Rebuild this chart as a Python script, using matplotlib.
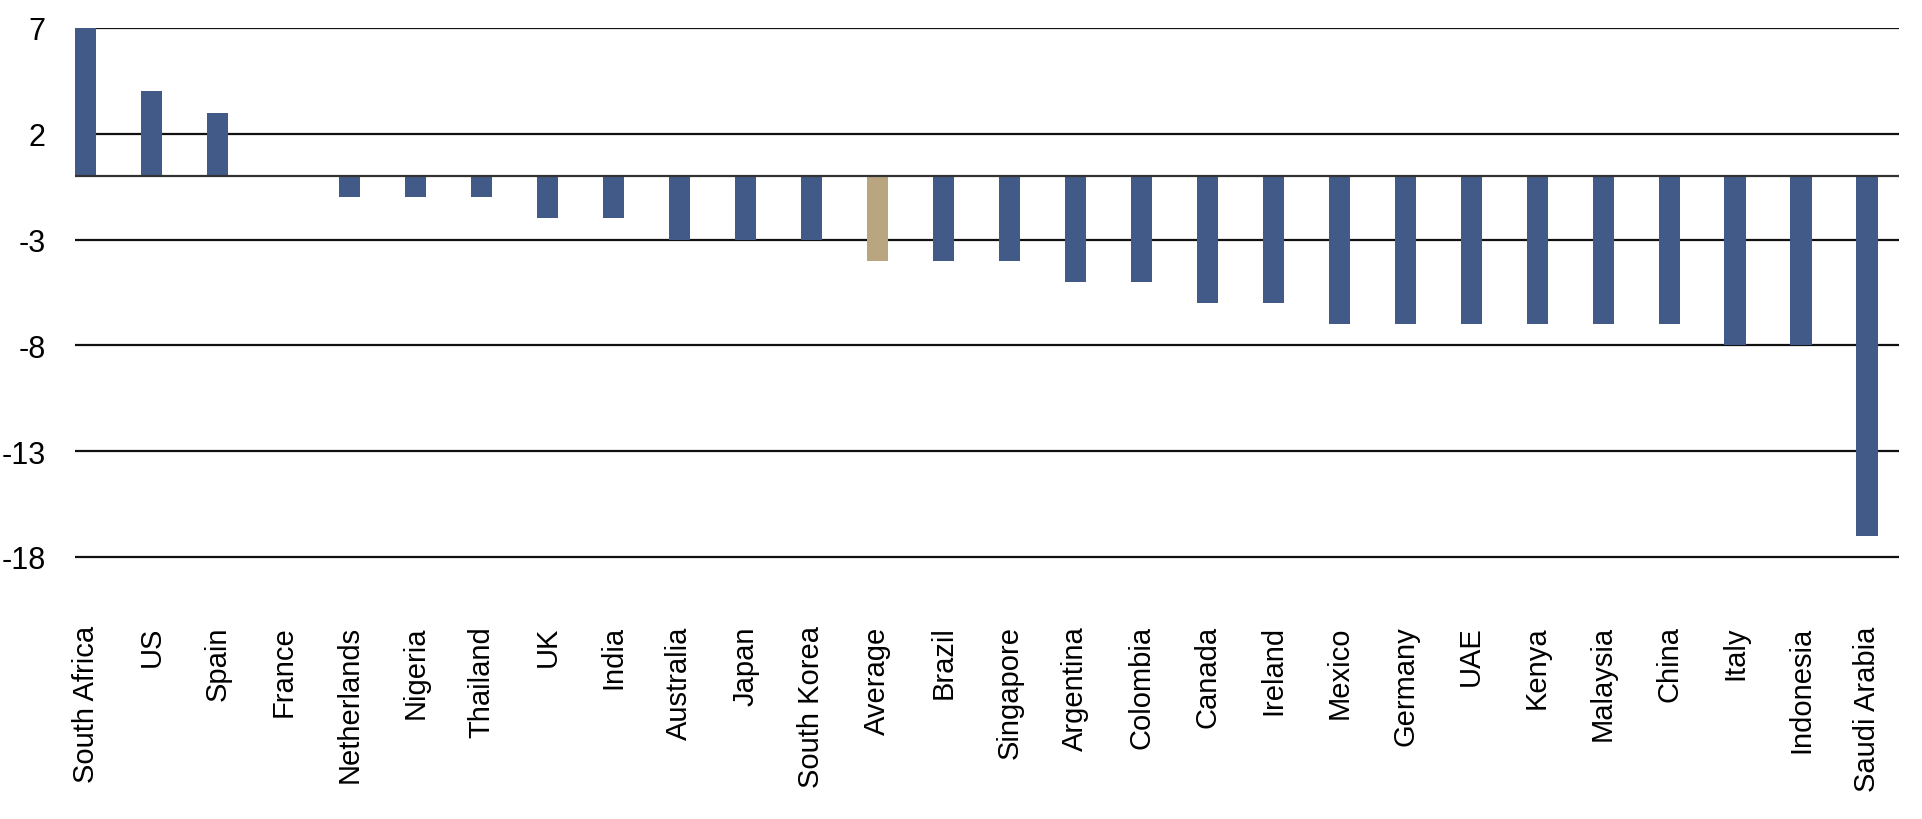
import matplotlib
matplotlib.use("Agg")
import matplotlib.pyplot as plt
import numpy as np

plt.rcParams['font.family'] = ['Liberation Sans', 'DejaVu Sans']

countries = ["South Africa", "US", "Spain", "France", "Netherlands", "Nigeria",
             "Thailand", "UK", "India", "Australia", "Japan", "South Korea",
             "Average", "Brazil", "Singapore", "Argentina", "Colombia", "Canada",
             "Ireland", "Mexico", "Germany", "UAE", "Kenya", "Malaysia", "China",
             "Italy", "Indonesia", "Saudi Arabia"]
values = [7, 4, 3, 0, -1, -1, -1, -2, -2, -3, -3, -3, -4, -4, -4, -5, -5, -6,
          -6, -7, -7, -7, -7, -7, -7, -8, -8, -17]
yticks = [7, 2, -3, -8, -13, -18]

BLUE = "#425a87"
TAN = "#b9a57f"
colors = [TAN if c == "Average" else BLUE for c in countries]

fig = plt.figure(figsize=(19.22, 8.2), dpi=100)
# axes box in pixels: x 75..1899, y 29..579
ax = fig.add_axes([75/1922, 1 - 579.1/820, (1899-75)/1922, (579.1-29)/820])

x = np.arange(len(countries))
ax.bar(x, values, width=0.32, color=colors, zorder=3)

for t in yticks:
    ax.axhline(t, color="#111111", lw=1.6, zorder=2)
ax.axhline(0, color="#333333", lw=1.6, zorder=4)

ax.set_xlim(-0.16, len(countries) - 1 + 0.485)
ax.set_ylim(-19, 7)
ax.set_yticks(yticks)
ax.set_yticklabels([str(t) for t in yticks], fontsize=22)
ax.set_xticks(x)
ax.set_xticklabels(countries, rotation=90, fontsize=21, va="top", ha="center")
ax.tick_params(axis="both", length=0)
ax.tick_params(axis="y", pad=21)
ax.tick_params(axis="x", pad=34)
for s in ax.spines.values():
    s.set_visible(False)

fig.savefig("out.png", dpi=100, facecolor="white")
